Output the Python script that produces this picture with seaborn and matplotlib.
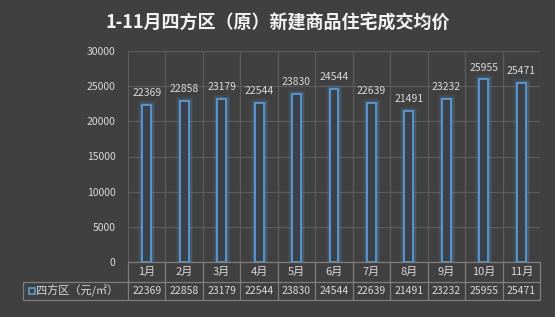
import matplotlib
matplotlib.use('Agg')
import matplotlib.pyplot as plt
import matplotlib.patheffects as pe
from matplotlib.transforms import blended_transform_factory
import numpy as np
import pandas as pd
import seaborn as sns

# ---- data ----
months = ['1月', '2月', '3月', '4月', '5月', '6月', '7月', '8月', '9月', '10月', '11月']
prices = [22369, 22858, 23179, 22544, 23830, 24544, 22639, 21491, 23232, 25955, 25471]
series_name = '四方区（元/㎡）'
title = '1-11月四方区（原）新建商品住宅成交均价'
yticks = [0, 5000, 10000, 15000, 20000, 25000, 30000]

sns.set_theme(style='dark')
plt.rcParams['font.family'] = ['Noto Sans CJK SC', 'DejaVu Sans']

bg = '#404040'
grid = '#5c5c5c'
txt = '#d9d9d9'
blue = '#5b9bd5'
line_col = '#7f7f7f'

W, H = 555, 317
fig = plt.figure(figsize=(W / 100, H / 100), dpi=100, facecolor=bg)
ax_l, ax_r, ax_t, ax_b = 128, 540, 51, 262
ax = fig.add_axes([ax_l / W, (H - ax_b) / H, (ax_r - ax_l) / W, (ax_b - ax_t) / H])
ax.set_facecolor(bg)

df = pd.DataFrame({'month': months, 'price': prices})
sns.barplot(data=df, x='month', y='price', ax=ax, width=0.24, color='#3b4149',
            saturation=1, edgecolor=blue, linewidth=1.3, errorbar=None)
for p in ax.patches:
    p.set_path_effects([pe.Stroke(linewidth=6, foreground=blue, alpha=0.10),
                        pe.Stroke(linewidth=3.5, foreground=blue, alpha=0.22),
                        pe.Normal()])

ax.set_xlim(-0.5, len(months) - 0.5)
ax.set_ylim(0, 30000)
ax.set_yticks(yticks)
ax.set_yticklabels([str(v) for v in yticks])
ax.set_xticks(np.arange(-0.5, len(months), 1), minor=True)
ax.grid(axis='y', which='major', color=grid, linewidth=0.9)
ax.grid(axis='x', which='minor', color=grid, linewidth=0.9)
ax.grid(axis='x', which='major', visible=False)
ax.tick_params(axis='x', which='both', length=0, labelbottom=False)
ax.tick_params(axis='y', length=0, pad=9, labelcolor=txt, labelsize=7.5)
ax.set_xlabel('')
ax.set_ylabel('')
for s in ax.spines.values():
    s.set_visible(False)

ax.bar_label(ax.containers[0], labels=[str(v) for v in prices], padding=5,
             color=txt, fontsize=7.5)

# ---- data table ----
trans = blended_transform_factory(ax.transData, ax.transAxes)
ah = ax_b - ax_t
cw = (ax_r - ax_l) / len(months)
y0, y1, y2 = 0.0, -20 / ah, -38 / ah
xl = (23 - ax_l) / cw - 0.5
xr = len(months) - 0.5
kw = dict(transform=trans, clip_on=False, color=line_col, linewidth=0.9)
ax.plot([-0.5, xr], [y0, y0], **kw)
ax.plot([xl, xr], [y1, y1], **kw)
ax.plot([xl, xr], [y2, y2], **kw)
for b in np.arange(-0.5, len(months), 1):
    ax.plot([b, b], [y0, y2], **kw)
ax.plot([xl, xl], [y1, y2], **kw)

for i, (m, v) in enumerate(zip(months, prices)):
    ax.text(i, (y0 + y1) / 2, m, transform=trans, ha='center', va='center',
            fontsize=8, color=txt)
    ax.text(i, (y1 + y2) / 2, str(v), transform=trans, ha='center', va='center',
            fontsize=7.5, color=txt)

mx = (31.5 - ax_l) / cw - 0.5
ax.plot([mx], [(y1 + y2) / 2], marker='s', markersize=5, mfc='none', mec=blue,
        mew=1.2, transform=trans, clip_on=False)
ax.text((36 - ax_l) / cw - 0.5, (y1 + y2) / 2, series_name, transform=trans,
        ha='left', va='center', fontsize=8, color=txt)

fig.text(0.5, 1 - 23 / H, title, ha='center', va='center', fontsize=13,
         fontweight='bold', color='#f2f2f2')

fig.savefig('out.png', dpi=100, facecolor=bg)
